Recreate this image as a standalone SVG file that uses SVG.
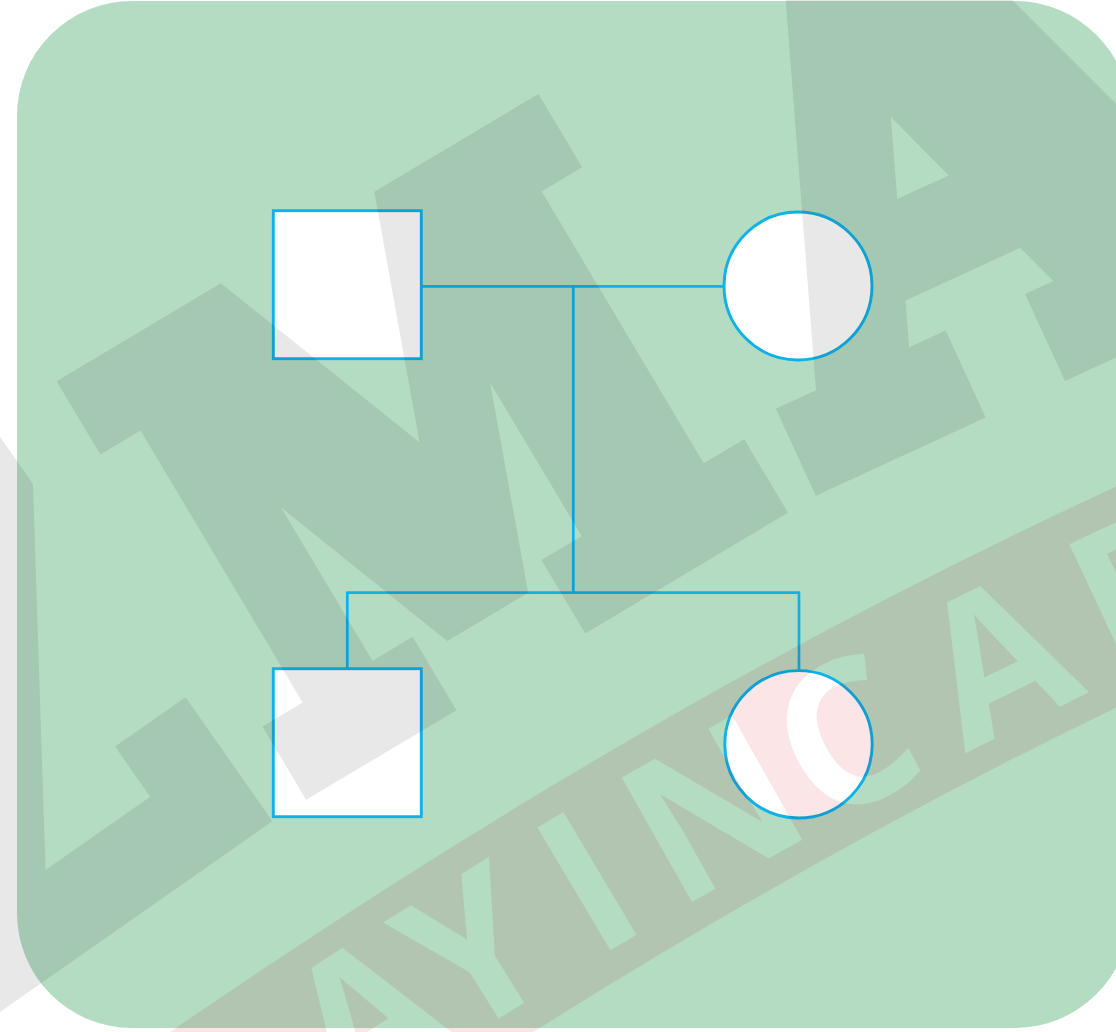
<svg xmlns="http://www.w3.org/2000/svg" width="1116" height="1032" viewBox="0 0 1116 1032">
  <style>
    .panel { fill: #b4dcc3; }
    .line { fill: none; stroke: #0fb1e9; stroke-width: 2.7; stroke-linejoin: round; }
    .node { fill: #ffffff; stroke: #0fb1e9; stroke-width: 2.9; }
    .multiply { mix-blend-mode: multiply; }
    .big { font-family: "DejaVu Serif Condensed", "DejaVu Serif", serif; font-stretch: condensed; font-weight: bold; font-size: 600px; fill: #e8e8e8; stroke: #e8e8e8; stroke-width: 50; stroke-linejoin: miter; }
    .bandtext { font-family: "Open Sans", "DejaVu Sans", sans-serif; font-weight: bold; font-size: 200px; fill: #000000; }
  </style>
  <defs>
    <!-- baseline arc for the lettering inside the tinted band -->
    <path id="bandBase" d="M 0,1356 L 177,1232 Q 658,895 1116,680 L 1400,547"/>
    <mask id="bandCut" maskUnits="userSpaceOnUse" x="0" y="0" width="1116" height="1032">
      <rect x="0" y="0" width="1116" height="1032" fill="#ffffff"/>
      <text class="bandtext" text-anchor="middle"><textPath href="#bandBase" startOffset="491">A</textPath></text>
      <text class="bandtext" text-anchor="middle"><textPath href="#bandBase" startOffset="617">Y</textPath></text>
      <text class="bandtext" text-anchor="middle"><textPath href="#bandBase" startOffset="748">I</textPath></text>
      <text class="bandtext" text-anchor="middle"><textPath href="#bandBase" startOffset="891">N</textPath></text>
      <text class="bandtext" text-anchor="middle"><textPath href="#bandBase" startOffset="1040">C</textPath></text>
      <text class="bandtext" text-anchor="middle"><textPath href="#bandBase" startOffset="1208">A</textPath></text>
      <text class="bandtext" text-anchor="start"><textPath href="#bandBase" startOffset="1304">P</textPath></text>
    </mask>
  </defs>

  <!-- page -->
  <rect x="0" y="0" width="1116" height="1032" fill="#ffffff"/>
  <rect class="panel" x="17" y="1" width="1113" height="1027" rx="115" ry="115"/>

  <!-- connectors -->
  <g id="connectors" class="line">
    <path id="marriage" d="M421.3,286.3 H724"/>
    <path id="descent" d="M573.3,286.3 V592.6"/>
    <path id="sibship" d="M347.3,668.7 V592.6 H799 V670.5"/>
  </g>

  <!-- pedigree members -->
  <g id="father">
    <rect class="node" x="273.3" y="210.7" width="148" height="148"/>
  </g>
  <g id="mother">
    <circle class="node" cx="798" cy="286" r="74"/>
  </g>
  <g id="son">
    <rect class="node" x="273.3" y="668.7" width="148" height="148"/>
  </g>
  <g id="daughter">
    <circle class="node" cx="798.5" cy="744.3" r="73.7"/>
  </g>

  <!-- large lettering printed over the chart, following a gentle arc -->
  <g id="lettering" class="multiply">
    <text class="big" text-anchor="end" y="-22" transform="translate(266,822) rotate(-35)">Z</text>
    <text class="big" text-anchor="middle" y="-15" transform="translate(543,647) rotate(-30.8) scale(0.935,1)">M</text>
    <text class="big" text-anchor="middle" y="-18" transform="translate(1055,377) rotate(-24.7) scale(1.12,1.12)">A</text>
  </g>

  <!-- tinted band with cut-out letters -->
  <g id="band" class="multiply" mask="url(#bandCut)">
    <path d="M 0,1273 L 177,1149 Q 658,812 1116,597 L 1400,464" fill="none" stroke="#fce5e7" stroke-width="200"/>
  </g>
</svg>
